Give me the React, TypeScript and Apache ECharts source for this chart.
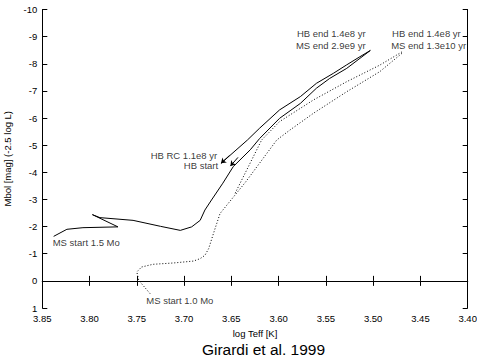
import React, { useEffect, useRef } from "react";
import * as echarts from "echarts";

// 1.5 Mo track (solid): main sequence + subgiant + red giant branch
const rgb15: [number, number][] = [
  [3.838, -1.64], [3.824, -1.9], [3.807, -1.96], [3.77, -1.99],
  [3.797, -2.44], [3.789, -2.33], [3.754, -2.23], [3.725, -2.01],
  [3.704, -1.86], [3.692, -1.99], [3.683, -2.23], [3.678, -2.61],
  [3.671, -2.98], [3.659, -3.6], [3.648, -4.21], [3.63, -4.83],
  [3.62, -5.25], [3.599, -5.99], [3.577, -6.54], [3.56, -7.1],
  [3.546, -7.46], [3.528, -7.83], [3.514, -8.2], [3.503, -8.49],
];
// 1.5 Mo track (solid): horizontal branch + AGB
const agb15: [number, number][] = [
  [3.661, -4.33], [3.633, -5.19], [3.62, -5.63], [3.599, -6.3],
  [3.577, -6.79], [3.56, -7.28], [3.542, -7.65], [3.528, -7.96],
  [3.514, -8.26], [3.503, -8.49],
];
// 1.0 Mo track (dotted): main sequence + red giant branch
const rgb10: [number, number][] = [
  [3.736, 0.47], [3.748, -0.02], [3.75, -0.33], [3.745, -0.51],
  [3.733, -0.61], [3.711, -0.66], [3.69, -0.73], [3.683, -0.82],
  [3.678, -0.94], [3.674, -1.19], [3.669, -1.74], [3.662, -2.48],
  [3.659, -2.61], [3.635, -3.64], [3.602, -5.19], [3.588, -5.56],
  [3.563, -6.18], [3.528, -6.97], [3.493, -7.71], [3.468, -8.43],
];
// 1.0 Mo track (dotted): horizontal branch + AGB
const agb10: [number, number][] = [
  [3.646, -3.23], [3.618, -5.19], [3.599, -5.87], [3.563, -6.67],
  [3.528, -7.34], [3.493, -7.95], [3.468, -8.47],
];

// annotations (anchor in data coordinates)
const labelsRightAligned: [number, number, string][] = [
  [3.508, -9.12, "HB end 1.4e8 yr"],
  [3.508, -8.67, "MS end 2.9e9 yr"],
  [3.665, -4.61, "HB RC 1.1e8 yr"],
  [3.664, -4.24, "HB start"],
];
const labelsLeftAligned: [number, number, string][] = [
  [3.48, -9.12, "HB end 1.4e8 yr"],
  [3.481, -8.67, "MS end 1.3e10 yr"],
  [3.839, -1.41, "MS start 1.5 Mo"],
  [3.74, 0.74, "MS start 1.0 Mo"],
];
const arrows: [[number, number], [number, number]][] = [
  [[3.652, -4.62], [3.661, -4.33]],
  [[3.643, -4.55], [3.651, -4.23]],
];

const FONT = "'Liberation Sans', Arial, Helvetica, sans-serif";

export default function App() {
  const ref = useRef<HTMLDivElement>(null);
  useEffect(() => {
    if (!ref.current) return;
    const chart = echarts.init(ref.current, undefined, { renderer: "svg" });
    const axisCommon = {
      axisLine: { show: true, lineStyle: { color: "#000", width: 1 } },
      axisTick: { show: true, inside: true, length: 5, lineStyle: { color: "#000" } },
      splitLine: { show: false },
    };
    const lbl = { color: "#000", fontSize: 9.5, fontFamily: FONT, margin: 5 };
    chart.setOption({
      animation: false,
      backgroundColor: "#fff",
      grid: { left: 42.3, right: 9.3, top: 9.5, bottom: 49, containLabel: false, outerBoundsMode: "none" },
      xAxis: [
        {
          type: "value", min: 3.4, max: 3.85, interval: 0.05, inverse: true,
          position: "bottom", ...axisCommon,
          axisLabel: { ...lbl, formatter: (v: number) => v.toFixed(2) },
          name: "log Teff [K]", nameLocation: "middle", nameGap: 20,
          nameTextStyle: { color: "#000", fontSize: 9.5, fontFamily: FONT },
        },
        {
          type: "value", min: 3.4, max: 3.85, interval: 0.05, inverse: true,
          position: "top", ...axisCommon, axisLabel: { show: false },
        },
      ],
      yAxis: [
        {
          type: "value", min: -10, max: 1, interval: 1, inverse: true,
          position: "left", ...axisCommon,
          axisLabel: { ...lbl },
          name: "Mbol [mag] (-2.5 log L)", nameLocation: "middle", nameGap: 28,
          nameTextStyle: { color: "#000", fontSize: 9.5, fontFamily: FONT },
        },
        {
          type: "value", min: -10, max: 1, interval: 1, inverse: true,
          position: "right", ...axisCommon, axisLabel: { show: false },
        },
      ],
      series: [
        {
          type: "line", data: rgb15, showSymbol: false, symbol: "none",
          lineStyle: { color: "#000", width: 1 }, silent: true,
        },
        {
          type: "line", data: agb15, showSymbol: false, symbol: "none",
          lineStyle: { color: "#000", width: 1 }, silent: true,
          markLine: {
            silent: true, symbol: ["none", "arrow"], symbolSize: 5,
            label: { show: false },
            lineStyle: { color: "#000", width: 1, type: "solid" },
            data: arrows.map(([a, b]) => [{ coord: a }, { coord: b }]),
          },
        },
        {
          type: "line", data: rgb10, showSymbol: false, symbol: "none",
          lineStyle: { color: "#000", width: 1, type: [1, 2] }, silent: true,
        },
        {
          type: "line", data: agb10, showSymbol: false, symbol: "none",
          lineStyle: { color: "#000", width: 1, type: [1, 2] }, silent: true,
        },
        {
          type: "scatter", symbolSize: 0, silent: true,
          itemStyle: { color: "transparent" },
          data: labelsRightAligned.map(([x, y, t]) => ({ value: [x, y], name: t })),
          label: {
            show: true, position: "left", distance: 0, formatter: "{b}",
            color: "#000", fontSize: 9.5, fontFamily: FONT,
          },
        },
        {
          type: "scatter", symbolSize: 0, silent: true,
          itemStyle: { color: "transparent" },
          data: labelsLeftAligned.map(([x, y, t]) => ({ value: [x, y], name: t })),
          label: {
            show: true, position: "right", distance: 0, formatter: "{b}",
            color: "#000", fontSize: 9.5, fontFamily: FONT,
          },
        },
      ],
      graphic: [
        {
          type: "text", x: 263.5, y: 349,
          style: {
            text: "Girardi et al. 1999", fontSize: 15.5, fontFamily: FONT, fill: "#000",
            textAlign: "center", textVerticalAlign: "middle", align: "center", verticalAlign: "middle",
          },
        },
      ],
    });
    return () => chart.dispose();
  }, []);
  return (
    <div
      ref={ref}
      style={{ position: "fixed", left: 0, top: 0, width: 477, height: 357, background: "#fff" }}
    />
  );
}
